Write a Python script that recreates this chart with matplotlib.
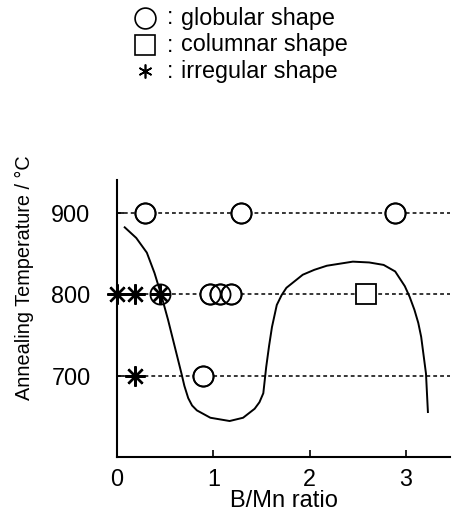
import matplotlib
matplotlib.use("Agg")
import matplotlib.pyplot as plt
from matplotlib.lines import Line2D

plt.rcParams["font.family"] = ["Liberation Sans", "DejaVu Sans"]

# annealing runs, grouped by the particle shape observed
globular_x = [0.29, 1.29, 2.89, 0.45, 0.97, 1.07, 1.18, 0.89]
globular_y = [900, 900, 900, 800, 800, 800, 800, 700]
columnar_x = [2.59]
columnar_y = [800]
irregular_x = [0.0, 0.19, 0.45, 0.19]
irregular_y = [800, 800, 800, 700]

# boundary curve traced by hand
curve_x = [0.08, 0.20, 0.31, 0.39, 0.46, 0.53, 0.60, 0.67, 0.70, 0.74, 0.78,
           0.83, 0.97, 1.17, 1.31, 1.43, 1.48, 1.52, 1.55, 1.58, 1.61, 1.66,
           1.71, 1.76, 1.93, 2.05, 2.18, 2.45, 2.62, 2.77, 2.89, 2.99, 3.04,
           3.09, 3.13, 3.16, 3.21, 3.23]
curve_y = [882, 869, 851, 826, 799, 769, 736, 703, 688, 673, 664,
           658, 649, 645, 649, 660, 668, 679, 711, 737, 760, 787,
           799, 808, 824, 830, 835, 840, 839, 836, 828, 810, 797,
           781, 765, 748, 703, 656]

temps = [700, 800, 900]
x_ticks = [0, 1, 2, 3]

fig = plt.figure(figsize=(4.54, 5.17), dpi=100)
ax = fig.add_axes([0.2577, 0.1161, 0.7336, 0.5359])

for t in temps:
    ax.axhline(t, color="black", lw=1.1, ls=(0, (2.5, 2)), zorder=1)

ax.plot(curve_x, curve_y, color="black", lw=1.4, zorder=2)

ax.plot(irregular_x, irregular_y, ls="none", marker=(8, 2, 0), ms=14.5,
        mec="black", mew=1.7, clip_on=False, zorder=3)
ax.plot(globular_x, globular_y, ls="none", marker="o", ms=14.5,
        mfc="none", mec="black", mew=1.3, clip_on=False, zorder=4)
# white fill behind the open circles so the dashed lines stop at the rim
ax.plot(globular_x[:3] + globular_x[4:], globular_y[:3] + globular_y[4:],
        ls="none", marker="o", ms=14.5, mfc="white", mec="black", mew=1.3,
        zorder=3.5)
ax.plot(columnar_x, columnar_y, ls="none", marker="s", ms=14,
        mfc="white", mec="black", mew=1.3, zorder=4)

ax.set_xlim(0, 3.46)
ax.set_ylim(601, 940)
ax.set_xticks(x_ticks)
ax.set_yticks(temps)
ax.tick_params(direction="in", length=5, width=1.2, labelsize=16.8)
ax.tick_params(axis="x", pad=8)
ax.tick_params(axis="y", pad=19)
for side in ["top", "right"]:
    ax.spines[side].set_visible(False)
for side in ["left", "bottom"]:
    ax.spines[side].set_linewidth(1.5)

ax.set_xlabel("B/Mn ratio", fontsize=17)
ax.xaxis.set_label_coords(0.50, -0.118)
ax.set_ylabel("Annealing Temperature / °C", fontsize=14.3)
ax.yaxis.set_label_coords(-0.249, 0.646)

# key at the top of the figure
W, H = 454, 517
key = [("o", 15, "globular shape", 18),
       ("s", 14, "columnar shape", 45),
       ((6, 2, 0), 10, "irregular shape", 71)]
for mk, ms, label, ypx in key:
    yf = 1 - ypx / H
    fig.add_artist(Line2D([145 / W], [yf], marker=mk, ms=ms, mfc="white",
                          mec="black", mew=1.2, ls="none",
                          transform=fig.transFigure))
    fig.text(170 / W, yf, ":", fontsize=16.5, ha="center", va="center")
    fig.text(181 / W, yf, label, fontsize=16.8, ha="left", va="center")

fig.savefig("out.png", dpi=100)
